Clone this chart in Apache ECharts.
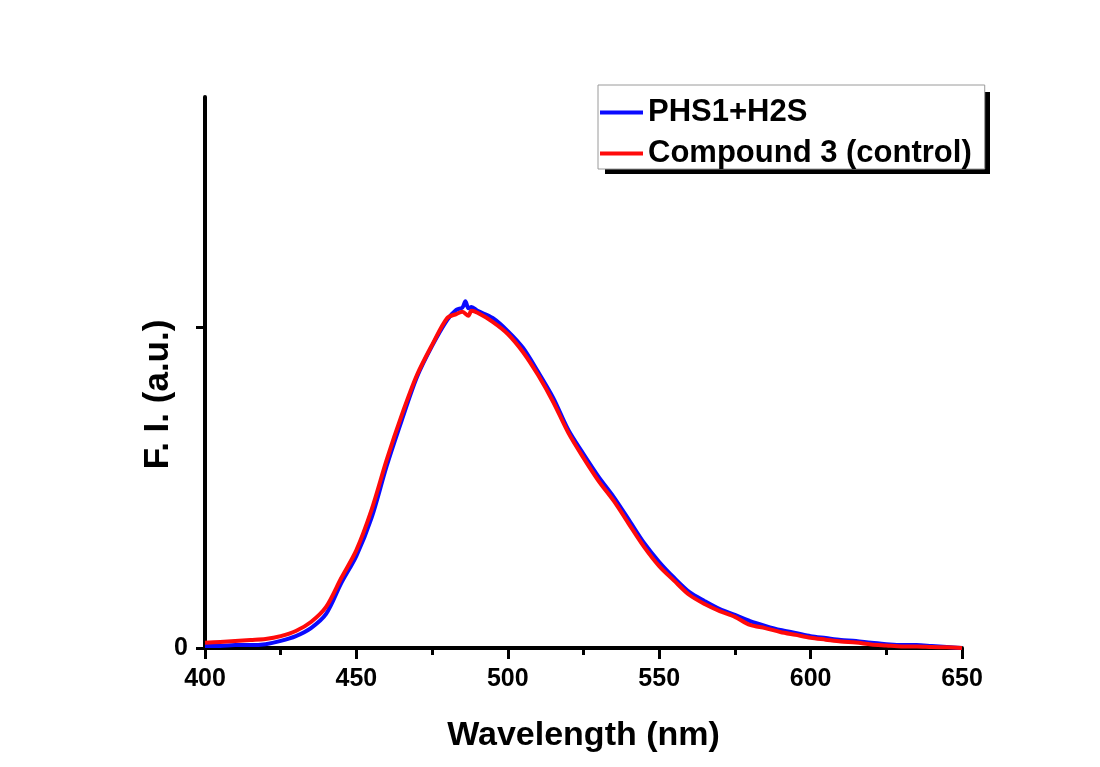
<!DOCTYPE html>
<html>
<head>
<meta charset="utf-8">
<script src="https://cdn.jsdelivr.net/npm/echarts@6/dist/echarts.min.js"></script>
<style>html,body{margin:0;padding:0;background:#fff;}#c{width:1100px;height:767px;}</style>
</head>
<body>
<div id="c"></div>
<script>
// Wavelengths (nm)
var wlBlue = [400,405,410,415,420,425,430,435,440,445,450,455,460,465,470,475,480,483,485,486,487,488,490,495,500,505,510,515,520,525,530,535,540,545,550,555,560,565,570,575,580,585,590,595,600,605,610,615,620,625,630,635,640,645,650];
var blueValues = [6,6,9,9,12,22,37,62,106,202,287,405,567,710,844,941,1022,1053,1060,1080,1058,1062,1050,1028,987,935,860,779,679,604,533,470,399,327,268,218,174,146,121,103,84,69,56,47,37,31,25,22,16,12,9,9,6,3,0];
var wlRed = [400,405,410,415,420,425,430,435,440,445,450,455,460,465,470,475,480,483,485,487,488,490,495,500,505,510,515,520,525,530,535,540,545,550,555,560,565,570,575,580,585,590,595,600,605,610,615,620,625,630,635,640,645,650];
var redValues = [16,19,22,25,28,37,53,81,128,218,305,430,586,726,850,944,1028,1040,1047,1035,1050,1044,1016,978,922,850,766,670,592,520,458,386,315,255,209,165,137,115,97,72,62,50,41,32,26,20,17,11,8,5,5,3,2,0];
var seriesNames = ['PHS1+H2S', 'Compound 3 (control)'];
var xTickMin = 400, xTickMax = 650, xTickStep = 50;
var yMax = 1716, yTickValues = [0, 1000], yLabelValues = [0];

function pairs(xs, ys) { return xs.map(function (x, i) { return [x, ys[i]]; }); }

var font = '"Liberation Sans", Arial, sans-serif';
var chart = echarts.init(document.getElementById('c'), null, {renderer: 'canvas'});
chart.setOption({
  backgroundColor: '#ffffff',
  animation: false,
  grid: {left: 205, right: 138, top: 97, bottom: 119, containLabel: false},
  graphic: [
    {type: 'rect', z: 0, zlevel: 0, shape: {x: 605, y: 92, width: 385, height: 82}, style: {fill: '#000000'}}
  ],
  legend: {
    orient: 'vertical',
    left: 598, top: 85, z: 5,
    icon: 'rect',
    itemWidth: 43, itemHeight: 4,
    itemGap: 10,
    padding: [12, 13, 0, 2],
    backgroundColor: '#ffffff',
    borderColor: '#9a9a9a', borderWidth: 1,
    textStyle: {fontFamily: font, fontWeight: 'bold', fontSize: 31, color: '#000', lineHeight: 30},
    data: seriesNames
  },
  xAxis: {
    type: 'value', min: xTickMin, max: xTickMax, interval: xTickStep,
    name: 'Wavelength (nm)', nameLocation: 'middle', nameGap: 71, nameMoveOverlap: false,
    nameTextStyle: {fontFamily: font, fontWeight: 'bold', fontSize: 34, color: '#000'},
    axisLine: {show: true, onZero: false, lineStyle: {color: '#000', width: 4}},
    axisTick: {show: true, inside: false, length: 11, lineStyle: {color: '#000', width: 3}},
    minorTick: {show: true, splitNumber: 2, length: 7, lineStyle: {color: '#000', width: 3}},
    axisLabel: {margin: 19, fontFamily: font, fontWeight: 'bold', fontSize: 25, color: '#000'},
    splitLine: {show: false}, minorSplitLine: {show: false}
  },
  yAxis: {
    type: 'value', min: 0, max: yMax,
    name: 'F. I. (a.u.)', nameLocation: 'middle', nameGap: 29, nameMoveOverlap: false,
    nameTextStyle: {fontFamily: font, fontWeight: 'bold', fontSize: 35, color: '#000', padding: [0, 44, 0, 0]},
    axisLine: {show: true, onZero: false, lineStyle: {color: '#000', width: 4}},
    axisTick: {show: true, inside: false, length: 9, customValues: yTickValues, lineStyle: {color: '#000', width: 3}},
    axisLabel: {margin: 17, customValues: yLabelValues, fontFamily: font, fontWeight: 'bold', fontSize: 25, color: '#000'},
    splitLine: {show: false}
  },
  series: [
    {name: seriesNames[0], type: 'line', data: pairs(wlBlue, blueValues), showSymbol: false, symbol: 'none', smooth: 0.3,
     lineStyle: {color: '#0a0aff', width: 4}, itemStyle: {color: '#0a0aff'}},
    {name: seriesNames[1], type: 'line', data: pairs(wlRed, redValues), showSymbol: false, symbol: 'none', smooth: 0.3,
     lineStyle: {color: '#ff0a0a', width: 4}, itemStyle: {color: '#ff0a0a'}}
  ]
});
</script>
</body>
</html>
